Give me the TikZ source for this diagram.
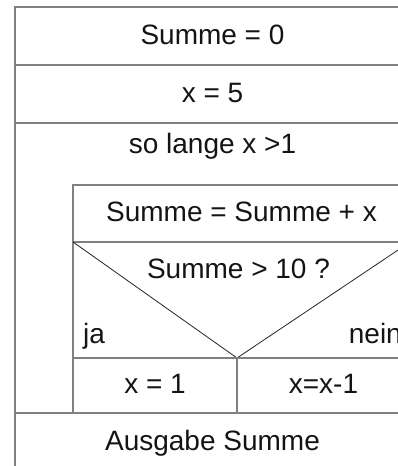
\documentclass[tikz,border=0pt]{standalone}
\usepackage{fontspec}
\setmainfont{Liberation Sans}
\usetikzlibrary{positioning, calc}
\definecolor{nsgrey}{RGB}{128,128,128}
\definecolor{nsdark}{RGB}{35,35,35}
\definecolor{nsink}{RGB}{20,20,20}
\tikzset{
  nsbox/.style  = {rectangle, draw=nsgrey, line width=1.6pt, outer sep=0pt,
                   inner sep=0pt, text=nsink, align=center,
                   font=\fontsize{28}{32}\selectfont, text height=20pt, text depth=4pt},
  nstag/.style  = {text=nsink, inner sep=0pt, font=\fontsize{28}{32}\selectfont},
  nsbar/.style  = {draw=nsgrey, line width=1.6pt},
  nscut/.style  = {draw=nsdark, line width=0.8pt},
}

\begin{document}
\begin{tikzpicture}[x=1pt, y=1pt]
  \useasboundingbox (0,0) rectangle (398,-466);
  \clip (0,0) rectangle (398,-466);
  \node[nsbox, minimum width=395pt, minimum height=58pt, anchor=north west] (init) at (15,-7) {Summe = 0};
  \node[nsbox, minimum width=395pt, minimum height=58pt, below=0pt of init] (setx) {x = 5};
  \node[nstag, below=30pt of setx.south, anchor=base] (loophead) {so lange x >1};
  % loop body
  \node[nsbox, minimum width=337pt, minimum height=57pt, anchor=north east] (addsum) at ($(setx.south east)+(0,-62)$) {Summe = Summe + x};
  \node[nsbox, minimum width=337pt, minimum height=116pt, below=0pt of addsum] (cond) {};
  \node[nstag, anchor=base] (condtext) at ($(cond.north)+(-3,-36)$) {Summe > 10 ?};
  \coordinate (tip) at ($(cond.south west)+(164,0)$);
  \draw[nscut] (cond.north west) -- (tip) -- (cond.north east);
  \node[nstag, anchor=base west] (yes) at ($(cond.south west)+(10,15)$) {ja};
  \node[nstag, anchor=base east] (no) at ($(cond.south east)+(-8,15)$) {nein};
  \node[nsbox, minimum width=164pt, minimum height=55pt, anchor=north west] (setone) at (cond.south west) {x = 1};
  \node[nsbox, minimum width=173pt, minimum height=55pt, right=0pt of setone] (decx) {x=x-1};
  % after the loop
  \node[nsbox, minimum width=395pt, minimum height=58pt, anchor=north west] (output) at (init.west |- setone.south) {Ausgabe Summe};
  \draw[nsbar] (setx.south west) -- (output.north west);
\end{tikzpicture}
\end{document}
